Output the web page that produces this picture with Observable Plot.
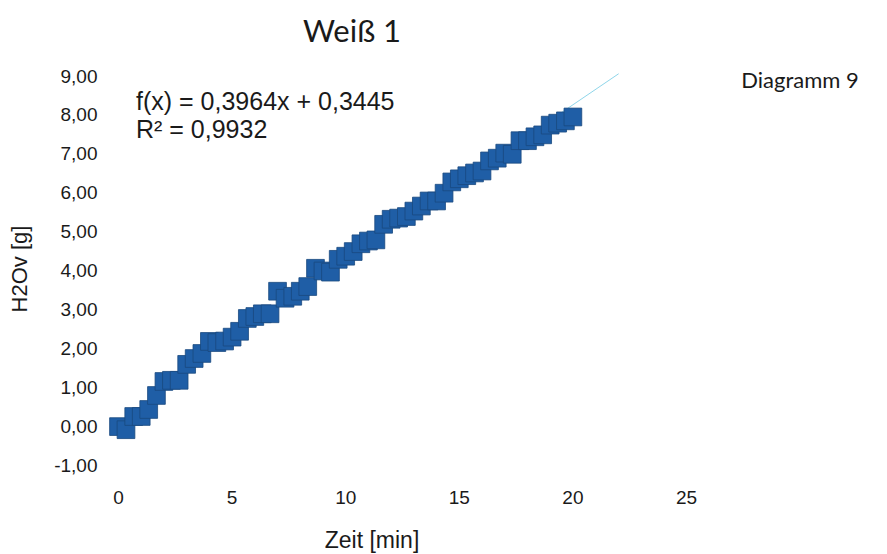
<!DOCTYPE html>
<html><head><meta charset="utf-8">
<script src="https://cdn.jsdelivr.net/npm/d3@7"></script>
<script src="https://cdn.jsdelivr.net/npm/@observablehq/plot@0.6"></script>
<style>
body{margin:0;background:#fff}
#wrap{position:relative;width:887px;height:554px;overflow:hidden}
.t{position:absolute;white-space:nowrap;color:#1a1a1a;line-height:1;transform:translate(-50%,-50%)}
</style>
</head><body><div id="wrap"></div>
<script>
// Time in minutes (20 s sampling)
const minutes = [0,0.33,0.67,1,1.33,1.67,2,2.33,2.67,3,3.33,3.67,4,4.33,4.67,5,5.33,5.67,6,6.33,6.67,7,7.33,7.67,8,8.33,8.67,9,9.33,9.67,10,10.33,10.67,11,11.33,11.67,12,12.33,12.67,13,13.33,13.67,14,14.33,14.67,15,15.33,15.67,16,16.33,16.67,17,17.33,17.67,18,18.33,18.67,19,19.33,19.67,20];
// H2Ov in g
const water = [0.0,-0.08,0.26,0.26,0.44,0.8,1.16,1.19,1.19,1.6,1.75,1.88,2.19,2.16,2.2,2.3,2.45,2.78,2.83,2.9,2.9,3.48,3.3,3.35,3.48,3.6,4.07,4.0,3.97,4.3,4.38,4.5,4.7,4.77,4.8,5.2,5.33,5.36,5.4,5.54,5.67,5.8,5.8,6.0,6.29,6.37,6.45,6.52,6.57,6.83,6.9,7.03,7.0,7.35,7.35,7.45,7.5,7.75,7.8,7.86,7.96];
const xTicks = [0,5,10,15,20,25];
const yTicks = [-1,0,1,2,3,4,5,6,7,8,9];
const slope = 0.3964, intercept = 0.3445, rSquared = 0.9932;
const trendX = [2, 22];

const data = minutes.map((t,i)=>({t, v: water[i]}));
const trend = trendX.map(x=>({x, y: slope*x + intercept}));
const fmt = d => d.toFixed(2).replace(".", ",");
const fmt4 = v => v.toFixed(4).replace(".", ",");

const chart = Plot.plot({
  width: 887, height: 554,
  marginLeft: 118, marginRight: 201, marginTop: 76, marginBottom: 89,
  x: {domain: [0,25]},
  y: {domain: [-1,9]},
  style: {fontFamily: "'Liberation Sans', Arial, sans-serif", fontSize: "19px", color: "#1a1a1a", background: "white"},
  marks: [
    Plot.axisX({ticks: xTicks, tickSize: 0, tickPadding: 25, label: null, tickFormat: d => String(d)}),
    Plot.axisY({ticks: yTicks, tickSize: 0, tickPadding: 21, label: null, tickFormat: fmt}),
    Plot.line(trend, {x: "x", y: "y", stroke: "#8fd6ea", strokeWidth: 1}),
    Plot.dot(data, {x: "t", y: "v", symbol: "square", r: 10, fill: "#1f5ea6", stroke: "#19497f", strokeWidth: 0.8})
  ]
});
const wrap = document.getElementById("wrap");
wrap.appendChild(chart);

function label(text, x, y, css) {
  const d = document.createElement("div");
  d.className = "t";
  d.textContent = text;
  d.style.left = x + "px";
  d.style.top = y + "px";
  Object.assign(d.style, css);
  wrap.appendChild(d);
  return d;
}
const arial = "'Liberation Sans', Arial, sans-serif";
label("Weiß 1", 352, 30, {fontFamily: "Lato, sans-serif", fontSize: "31px"});
label("Diagramm 9", 800, 80, {fontFamily: "Lato, sans-serif", fontSize: "22px"});
label("Zeit [min]", 372, 540, {fontFamily: arial, fontSize: "23px"});
label("H2Ov [g]", 20, 269, {fontFamily: arial, fontSize: "22px", transform: "translate(-50%,-50%) rotate(-90deg)"});
label("f(x) = " + fmt4(slope) + "x + " + fmt4(intercept), 136, 101, {fontFamily: arial, fontSize: "25px", transform: "translate(0,-50%)"});
label("R² = " + fmt4(rSquared), 136, 129, {fontFamily: arial, fontSize: "25px", transform: "translate(0,-50%)"});
</script>
</body></html>
